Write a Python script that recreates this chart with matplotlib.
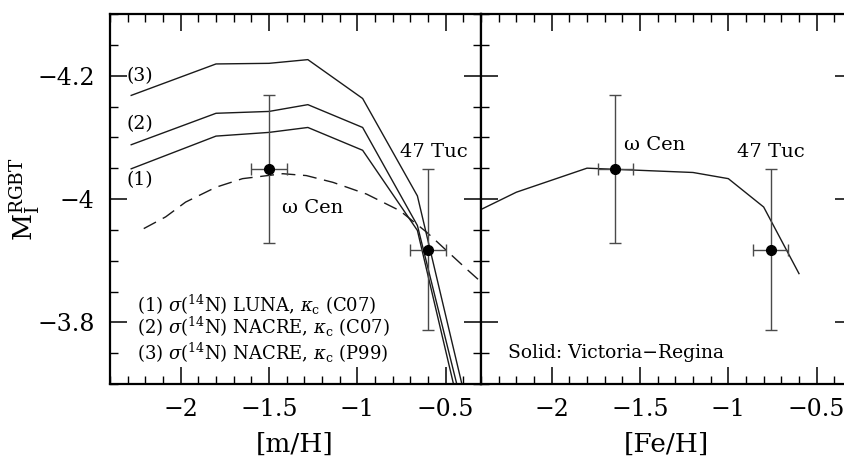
import matplotlib
matplotlib.use("Agg")
import matplotlib.pyplot as plt
from matplotlib.ticker import FixedLocator, FixedFormatter, MultipleLocator

plt.rcParams['font.family'] = ['DejaVu Serif']
plt.rcParams['mathtext.fontset'] = 'dejavuserif'

# ---- data: left panel ([m/H]) ----
mh_grid = [-2.28, -1.80, -1.50, -1.28, -0.97, -0.66, -0.40]
curve1 = [-4.049, -4.102, -4.108, -4.116, -4.079, -3.949, -3.632]
curve2 = [-4.088, -4.139, -4.142, -4.153, -4.116, -3.957, -3.657]
curve3 = [-4.168, -4.219, -4.220, -4.226, -4.163, -4.005, -3.690]

dash_mh = [-2.209, -2.085, -1.972, -1.801, -1.650, -1.422, -1.289, -1.138,
           -0.948, -0.759, -0.607, -0.380, -0.298]
dash_mi = [-3.952, -3.971, -3.995, -4.019, -4.033, -4.041, -4.038, -4.027,
           -4.008, -3.981, -3.946, -3.886, -3.865]

# observed clusters
clusters = ["ω Cen", "47 Tuc"]
obs_mh = [-1.50, -0.60]
obs_feh = [-1.64, -0.76]
obs_mi = [-4.049, -3.918]
obs_xerr = [0.10, 0.10]
obs_yerr = [0.12, 0.13]

# ---- data: right panel ([Fe/H]) Victoria-Regina ----
feh_vr = [-2.40, -2.20, -1.80, -1.20, -1.00, -0.80, -0.60]
mi_vr = [-3.983, -4.011, -4.050, -4.043, -4.033, -3.987, -3.879]

xticks = [-2.0, -1.5, -1.0, -0.5]
xticklabels = ["\u22122", "\u22121.5", "\u22121", "\u22120.5"]
yticks = [-4.2, -4.0, -3.8]
yticklabels = ["\u22124.2", "\u22124", "\u22123.8"]

legend_lines = [r"(1) $\sigma$($^{14}$N) LUNA, $\kappa_{\rm c}$ (C07)",
                r"(2) $\sigma$($^{14}$N) NACRE, $\kappa_{\rm c}$ (C07)",
                r"(3) $\sigma$($^{14}$N) NACRE, $\kappa_{\rm c}$ (P99)"]

W, H = 845, 459
fig = plt.figure(figsize=(W / 100, H / 100), dpi=100)
ax1 = fig.add_axes([110 / W, 75 / H, 371 / W, 370 / H])
ax2 = fig.add_axes([481 / W, 75 / H, 371 / W, 370 / H])

for ax in (ax1, ax2):
    ax.set_xlim(-2.4, -0.3)
    ax.set_ylim(-3.7, -4.3)
    ax.xaxis.set_major_locator(FixedLocator(xticks))
    ax.xaxis.set_major_formatter(FixedFormatter(xticklabels))
    ax.xaxis.set_minor_locator(MultipleLocator(0.1))
    ax.yaxis.set_major_locator(FixedLocator(yticks))
    ax.yaxis.set_major_formatter(FixedFormatter(yticklabels))
    ax.yaxis.set_minor_locator(MultipleLocator(0.05))
    ax.tick_params(which='both', direction='in', top=True, right=True,
                   left=True, bottom=True, labelsize=17, color='k')
    ax.tick_params(which='major', length=12.5, width=1.1)
    ax.tick_params(which='minor', length=6, width=1.0)
    ax.tick_params(axis='x', which='major', pad=10)
    ax.tick_params(axis='y', which='major', pad=11)
    for s in ax.spines.values():
        s.set_linewidth(1.6)
ax2.tick_params(labelleft=False)

lc = '#1a1a1a'
ec = '#4a4a4a'
# left panel
for c in (curve1, curve2, curve3):
    ax1.plot(mh_grid, c, color=lc, lw=1.0)
ax1.plot(dash_mh, dash_mi, color=lc, lw=1.0, dashes=(10, 5.5))
ax1.errorbar(obs_mh, obs_mi, xerr=obs_xerr, yerr=obs_yerr, fmt='o',
             color='k', ecolor=ec, elinewidth=1.0, capsize=4.5,
             capthick=1.0, ms=7, zorder=5)

ax1.text(-2.305, -4.20, "(3)", fontsize=13.5, ha='left', va='center')
ax1.text(-2.305, -4.122, "(2)", fontsize=13.5, ha='left', va='center')
ax1.text(-2.305, -4.030, "(1)", fontsize=13.5, ha='left', va='center')
ax1.text(-0.759, -4.077, clusters[1], fontsize=14, ha='left', va='center')
ax1.text(-1.424, -3.986, clusters[0], fontsize=14, ha='left', va='center')
for s, yy in zip(legend_lines, [-3.828, -3.792, -3.751]):
    ax1.text(-2.248, yy, s, fontsize=13, ha='left', va='center')

# right panel
ax2.plot(feh_vr, mi_vr, color=lc, lw=1.0)
ax2.errorbar(obs_feh, obs_mi, xerr=obs_xerr, yerr=obs_yerr, fmt='o',
             color='k', ecolor=ec, elinewidth=1.0, capsize=4.5,
             capthick=1.0, ms=7, zorder=5)
ax2.text(-1.589, -4.087, clusters[0], fontsize=14, ha='left', va='center')
ax2.text(-0.949, -4.077, clusters[1], fontsize=14, ha='left', va='center')
ax2.text(-2.248, -3.751, "Solid: Victoria\u2212Regina", fontsize=13.5,
         ha='left', va='center')

fig.text(25 / W, 1 - 199 / H, r"$\mathrm{M}_{\rm I}^{\rm RGBT}$", fontsize=19,
         rotation=90, ha='center', va='center')
fig.text(295 / W, 2 / H, "[m/H]", fontsize=19, ha='center', va='bottom')
fig.text(666 / W, 2 / H, "[Fe/H]", fontsize=19, ha='center', va='bottom')

fig.savefig("out.png", dpi=100)
